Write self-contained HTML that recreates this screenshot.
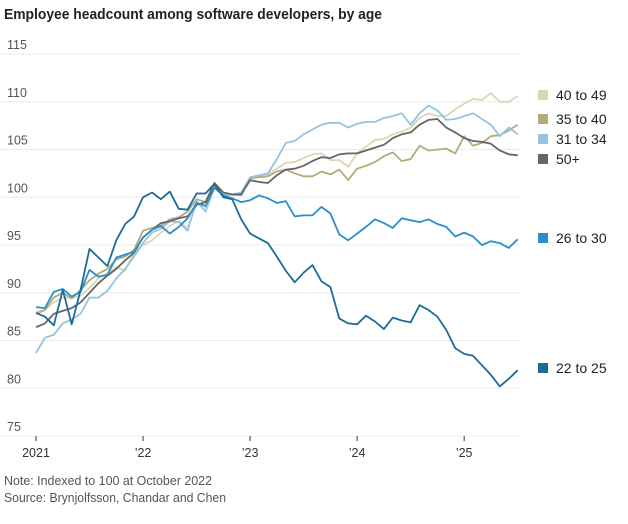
<!DOCTYPE html>
<html><head><meta charset="utf-8"><style>
body{margin:0;background:#fff;font-family:"Liberation Sans",sans-serif;}
svg text{font-family:"Liberation Sans",sans-serif;}
</style></head><body>
<svg id="chart" width="628" height="519">
<text x="4" y="19" font-size="14.5" font-weight="bold" fill="#222" textLength="378" lengthAdjust="spacingAndGlyphs">Employee headcount among software developers, by age</text>
<g id="grid"></g><g id="lines"></g><g id="legend"></g>
<text x="4" y="485" font-size="12.5" fill="#555" textLength="208" lengthAdjust="spacingAndGlyphs">Note: Indexed to 100 at October 2022</text>
<text x="4" y="502" font-size="12.5" fill="#555" textLength="222" lengthAdjust="spacingAndGlyphs">Source: Brynjolfsson, Chandar and Chen</text>
</svg>
<script>
const yTicks=[75,80,85,90,95,100,105,110,115];
const xTickLabels=["2021","\u201922","\u201923","\u201924","\u201925"];
const xTickMonths=[0,12,24,36,48];
const seriesNames=["40 to 49","35 to 40","31 to 34","50+","26 to 30","22 to 25"];
const s4049=[88,88.2,89,89.5,89.5,89.7,90.5,91.5,92,92.7,92.3,94.2,95,95.5,96.3,97,97.5,96.8,99.5,99,101.2,100.2,100.2,100.3,102,102.2,102.4,103,103.6,103.7,104.1,104.5,104.6,103.9,103.9,103.2,104.6,105.3,106,106.1,106.6,106.9,107.3,108.3,108.8,108.5,108.5,109.2,109.8,110.3,110.2,110.9,110,110,110.6];
const s3540=[87.8,88.2,89.5,90,89.4,90.3,91.3,92,92.5,93.5,93.8,94.5,96.5,96.8,97,97.7,97.9,98.5,99.8,99.5,101.2,100.3,100.3,100.2,102,102.1,102.2,102.7,102.9,102.5,102.2,102.2,102.7,102.4,102.9,101.8,103,103.3,103.7,104.3,104.7,103.8,104,105.4,104.9,105,105.1,104.6,106.4,105.4,105.7,106.4,106.5,107,107.6];
const s3134=[83.7,85.3,85.6,86.8,87.2,87.8,89.5,89.5,90.2,91.5,92.5,93.8,95.2,96.3,96.7,97.5,97.4,96.5,99.6,98.5,101,100.3,100.3,100.5,102.1,102.3,102.5,104,105.7,105.9,106.6,107.1,107.6,107.8,107.8,107.3,107.7,107.9,107.9,108.3,108.5,108.8,107.6,108.8,109.6,109.1,108.1,108.2,108.5,108.8,108.2,107.6,106.4,107.3,106.6];
const s50=[86.4,86.8,87.8,88.1,88.4,89,90,91,91.8,92.5,93.4,94.2,95.8,96.6,97.3,97.5,97.8,98,99.2,99.5,101.5,100.5,100.3,100.3,101.8,101.6,101.5,102.3,102.9,103,103.3,103.8,104.2,104.1,104.5,104.6,104.6,104.9,105.2,105.5,106.2,106.6,106.8,107.6,108.1,108.2,107.3,106.8,106.2,105.9,105.8,105.6,104.9,104.5,104.4];
const s2630=[88.5,88.4,90.1,90.4,89.6,90.1,92.4,91.7,91.9,93.7,94,94.3,95.8,96.6,97,96.2,96.9,97.8,99.4,99.1,101,100.2,99.9,99.5,99.7,100.2,99.9,99.4,99.6,98,98.1,98.1,99,98.3,96.1,95.5,96.2,96.9,97.7,97.3,96.8,97.8,97.6,97.4,97.7,97.2,96.9,95.9,96.3,95.9,95,95.4,95.2,94.7,95.6];
const s2225=[87.9,87.5,86.6,90.3,86.7,90.3,94.6,93.7,92.8,95.5,97.2,98,100,100.5,99.8,100.6,98.8,98.7,100.4,100.4,101.4,100,99.8,97.7,96.2,95.7,95.2,93.8,92.3,91.1,92.1,92.9,91.2,90.6,87.3,86.8,86.7,87.6,87,86.2,87.4,87.1,86.9,88.7,88.2,87.5,86.1,84.2,83.6,83.4,82.4,81.4,80.2,81,81.9];
const seriesData=[s4049,s3540,s3134,s50,s2630,s2225];
const colors=["#dcd6b4","#b3ab78","#93c4e2","#666666","#2b8fc9","#1d6c98"];
const legendY=[95,119,139,159,238,368];
const NS="http://www.w3.org/2000/svg";
function x(m){return 36+m*8.92;}
function y(v){return 197.3-(v-100)*9.55;}
const grid=document.getElementById('grid');
yTicks.forEach(t=>{
 const l=document.createElementNS(NS,'line');
 l.setAttribute('x1',0);l.setAttribute('x2',521);l.setAttribute('y1',y(t));l.setAttribute('y2',y(t));
 l.setAttribute('stroke','#ebebeb');l.setAttribute('stroke-width','1');
 
 
 grid.appendChild(l);
 const tx=document.createElementNS(NS,'text');
 tx.setAttribute('x',7);tx.setAttribute('y',y(t)-5);tx.setAttribute('font-size','12.5');tx.setAttribute('fill','#555');
 tx.textContent=t;
 
 
 grid.appendChild(tx);
});
xTickMonths.forEach((m,i)=>{
 const l=document.createElementNS(NS,'line');
 l.setAttribute('x1',x(m));l.setAttribute('x2',x(m));l.setAttribute('y1',y(75));l.setAttribute('y2',y(75)+5);
 l.setAttribute('stroke','#333');
 
 
 grid.appendChild(l);
 const tx=document.createElementNS(NS,'text');
 tx.setAttribute('x',x(m));tx.setAttribute('y',y(75)+21);tx.setAttribute('font-size','12.5');tx.setAttribute('fill','#333');tx.setAttribute('text-anchor','middle');
 tx.textContent=xTickLabels[i];
 
 
 grid.appendChild(tx);
});
const lines=document.getElementById('lines');
seriesData.forEach((d,i)=>{
 const p=document.createElementNS(NS,'polyline');
 p.setAttribute('points',d.map((v,m)=>x(m).toFixed(1)+','+y(v).toFixed(1)).join(' '));
 p.setAttribute('fill','none');p.setAttribute('stroke',colors[i]);p.setAttribute('stroke-width','1.8');p.setAttribute('stroke-linejoin','round');
 
 
 lines.appendChild(p);
});
const lg=document.getElementById('legend');
seriesNames.forEach((n,i)=>{
 const r=document.createElementNS(NS,'rect');
 r.setAttribute('x',538);r.setAttribute('y',legendY[i]-5);r.setAttribute('width',10);r.setAttribute('height',10);r.setAttribute('fill',colors[i]);
 
 
 lg.appendChild(r);
 const t=document.createElementNS(NS,'text');
 t.setAttribute('x',556);t.setAttribute('y',legendY[i]+5);t.setAttribute('font-size','14');t.setAttribute('fill','#222');
 t.textContent=n;
 
 
 lg.appendChild(t);
});
</script>
</body></html>
